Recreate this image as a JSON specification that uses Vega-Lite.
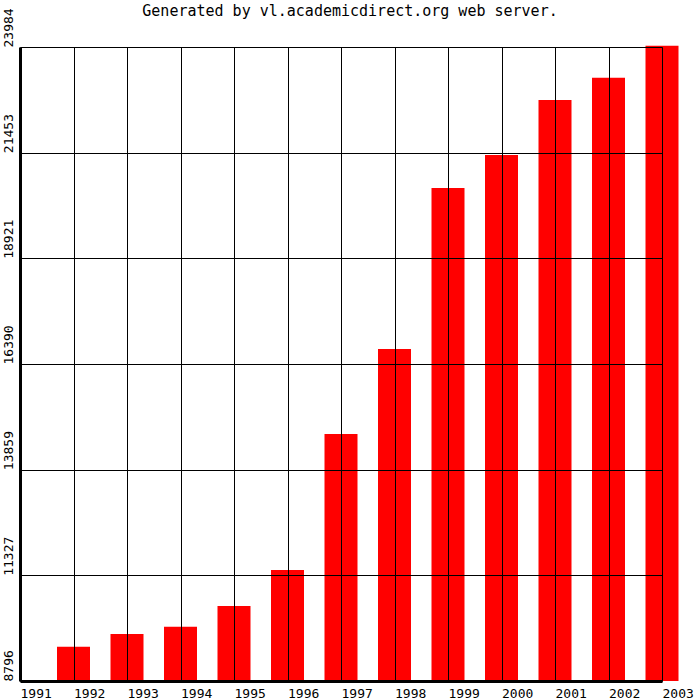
{
  "$schema": "https://vega.github.io/schema/vega-lite/v6.json",
  "width": 642,
  "height": 634,
  "autosize": "none",
  "padding": {"left": 20, "top": 47, "right": 38, "bottom": 19},
  "background": "white",
  "title": {
    "text": "Generated by vl.academicdirect.org web server.",
    "font": "DejaVu Sans Mono",
    "fontSize": 15,
    "fontWeight": "normal",
    "color": "black",
    "anchor": "middle",
    "dx": 9,
    "offset": -11
  },
  "data": {
    "values": [
      {"year": 1992, "value": 9618},
      {"year": 1993, "value": 9922},
      {"year": 1994, "value": 10097},
      {"year": 1995, "value": 10593},
      {"year": 1996, "value": 11455},
      {"year": 1997, "value": 14713},
      {"year": 1998, "value": 16749},
      {"year": 1999, "value": 20606},
      {"year": 2000, "value": 21397},
      {"year": 2001, "value": 22714},
      {"year": 2002, "value": 23250},
      {"year": 2003, "value": 24015}
    ]
  },
  "mark": {"type": "bar", "color": "#ff0000", "width": 33, "clip": false},
  "encoding": {
    "x": {
      "field": "year",
      "type": "quantitative",
      "scale": {"domain": [1991, 2003], "nice": false, "zero": false, "padding": 0},
      "axis": {
        "title": null,
        "values": [1991, 1992, 1993, 1994, 1995, 1996, 1997, 1998, 1999, 2000, 2001, 2002, 2003],
        "format": "d",
        "labelAlign": "left",
        "labelBaseline": "top",
        "labelPadding": 6,
        "labelDx": -3,
        "labelFont": "DejaVu Sans Mono",
        "labelFontSize": 13,
        "labelColor": "black",
        "labelOverlap": false,
        "labelFlush": false,
        "ticks": false,
        "grid": true,
        "gridColor": "black",
        "gridOpacity": 1,
        "gridWidth": 1,
        "domainColor": "black",
        "domainWidth": 3,
        "zindex": 1
      }
    },
    "y": {
      "field": "value",
      "type": "quantitative",
      "scale": {"domain": [8796, 23984], "nice": false, "zero": false, "padding": 0},
      "axis": {
        "title": null,
        "values": [8796, 11327.33, 13858.67, 16390, 18921.33, 21452.67, 23984],
        "format": "d",
        "labelAngle": -90,
        "labelAlign": "left",
        "labelBaseline": "bottom",
        "labelPadding": 5,
        "labelFont": "DejaVu Sans Mono",
        "labelFontSize": 13,
        "labelColor": "black",
        "labelOverlap": false,
        "labelFlush": false,
        "ticks": false,
        "grid": true,
        "gridColor": "black",
        "gridOpacity": 1,
        "gridWidth": 1,
        "domainColor": "black",
        "domainWidth": 3,
        "zindex": 1
      }
    },
    "y2": {"datum": 8796}
  },
  "config": {"view": {"stroke": null}}
}
